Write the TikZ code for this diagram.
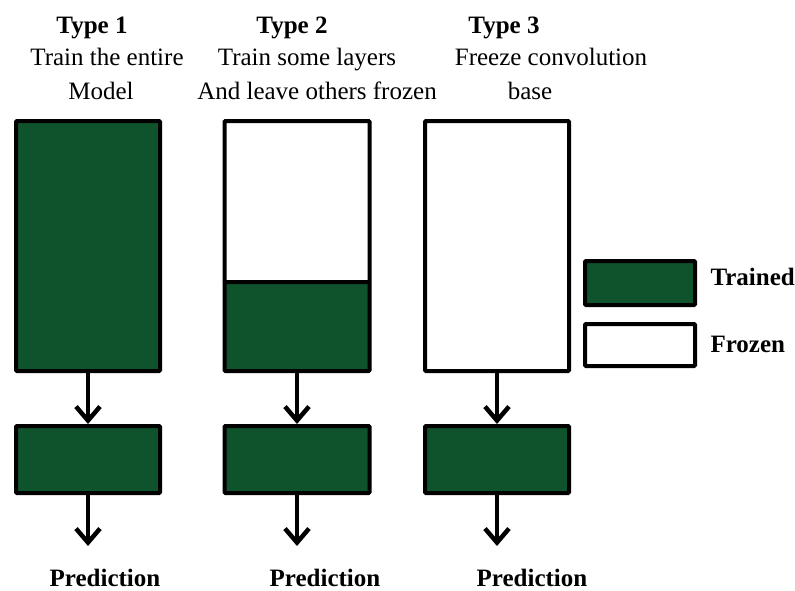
\documentclass[tikz,border=0pt]{standalone}
\usepackage{fontspec}
\setmainfont{Liberation Serif}
\usetikzlibrary{arrows.meta}
\definecolor{trainedgreen}{HTML}{0F532D}
\tikzset{
  block/.style={draw=black, line width=4pt, rounded corners=1pt, inner sep=0pt},
  trained/.style={block, fill=trainedgreen},
  frozen/.style={block, fill=white},
  flow/.style={line width=4.5pt, -{Straight Barb[length=14pt, width=24pt]}},
  title/.style={font=\fontsize{25}{29}\selectfont\bfseries, anchor=base},
  caption/.style={font=\fontsize{25}{29}\selectfont, anchor=base},
  result/.style={font=\fontsize{25}{29}\selectfont\bfseries, anchor=base},
  legendtext/.style={font=\fontsize{25}{29}\selectfont\bfseries, anchor=base west}
}
\begin{document}
\begin{tikzpicture}[x=1pt, y=-1pt]
\useasboundingbox (0,0) rectangle (795,590);

% column headings
\node[title]   (h1)  at (92,33)  {Type 1};
\node[caption] (c1a) at (107,65) {Train the entire};
\node[caption] (c1b) at (101,99) {Model};
\node[title]   (h2)  at (292,33) {Type 2};
\node[caption] (c2a) at (307,65) {Train some layers};
\node[caption] (c2b) at (317,99) {And leave others frozen};
\node[title]   (h3)  at (504,33) {Type 3};
\node[caption] (c3a) at (551,65) {Freeze convolution};
\node[caption] (c3b) at (530,99) {base};

% convolution bases
\node[trained, minimum width=144pt, minimum height=250pt] (b1) at (88,246) {};
\node[frozen,  minimum width=145pt, minimum height=161pt] (b2t) at (297,201.5) {};
\node[trained, minimum width=145pt, minimum height=89pt]  (b2b) at (297,326.5) {};
\node[frozen,  minimum width=144pt, minimum height=250pt] (b3) at (497,246) {};

% classifier heads
\node[trained, minimum width=144pt, minimum height=67pt] (k1) at (88,459.5) {};
\node[trained, minimum width=145pt, minimum height=67pt] (k2) at (297,459.5) {};
\node[trained, minimum width=144pt, minimum height=67pt] (k3) at (497,459.5) {};

% outputs
\node[result] (p1) at (105,586) {Prediction};
\node[result] (p2) at (325,586) {Prediction};
\node[result] (p3) at (532,586) {Prediction};
\coordinate (e1) at (88,546);
\coordinate (e2) at (297,546);
\coordinate (e3) at (497,546);

% data flow
\draw[flow] (b1.south)  -- (k1.north);
\draw[flow] (b2b.south) -- (k2.north);
\draw[flow] (b3.south)  -- (k3.north);
\draw[flow] (k1.south) -- (e1);
\draw[flow] (k2.south) -- (e2);
\draw[flow] (k3.south) -- (e3);

% legend
\node[trained, minimum width=110pt, minimum height=44pt] (lt) at (640,283) {};
\node[frozen,  minimum width=110pt, minimum height=42pt] (lf) at (640,345) {};
\node[legendtext] (lta) at (707,285) {Trained};
\node[legendtext] (lfa) at (707,352) {Frozen};
\end{tikzpicture}
\end{document}
